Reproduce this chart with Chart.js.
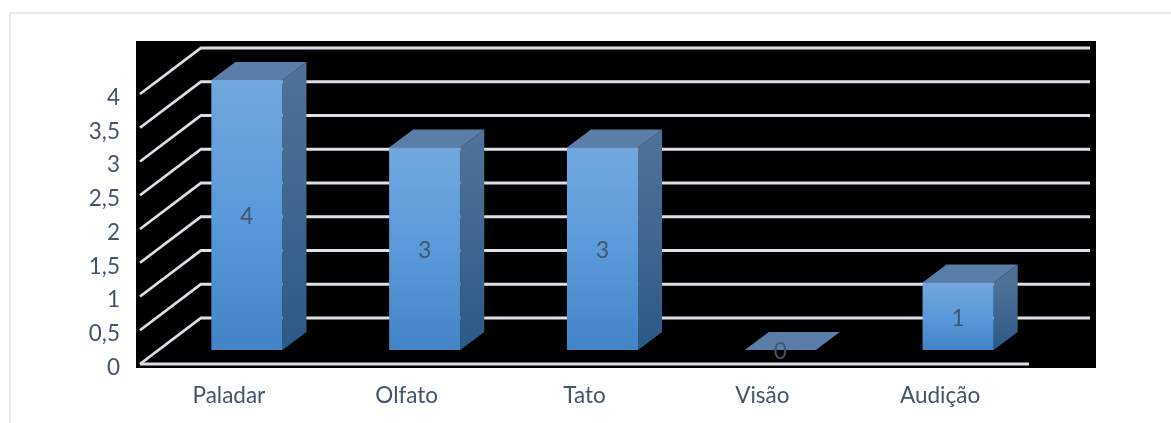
<!DOCTYPE html>
<html>
<head>
<meta charset="utf-8">
<script src="https://cdn.jsdelivr.net/npm/chart.js@4"></script>
<style>
  html, body { margin: 0; padding: 0; background: #fff; overflow: hidden; }
  #wrap { position: absolute; left: 0; top: 0; width: 1171px; height: 423px; }
  #frame { position: absolute; left: 9px; top: 12px; right: 0; bottom: 0; border-left: 2px solid #e6ebf0; border-top: 2px solid #e6ebf0; }
  canvas { position: absolute; left: 0; top: 0; }
</style>
</head>
<body>
<div id="wrap">
  <div id="frame"></div>
  <canvas id="chart" width="1171" height="423"></canvas>
</div>
<script>
// Values.
const categories = ["Paladar", "Olfato", "Tato", "Visão", "Audição"];
const values = [4, 3, 3, 0, 1];
const yMin = 0;
const yMax = 4;
const yStep = 0.5;

const textColor = "#44546a";
const gridColor = "#dcdfe5";
const fontFamily = "Lato, Carlito, sans-serif";
const fontSize = 22.5;

// Depth of the fake 3D: wall offset and bar offsets, in pixels.
const wallDx = 61, wallDy = -46;
const barDx = 18, barDy = -14;
const sideDx = 24, sideDy = -18;

function frontGradient(ctx) {
  const chart = ctx.chart;
  const y = chart.scales.y;
  const top = y ? y.getPixelForValue(ctx.raw || 0) : NaN;
  const bottom = y ? y.getPixelForValue(0) : NaN;
  // scales have no pixels yet on the first pass
  if (!Number.isFinite(top) || !Number.isFinite(bottom)) return "#5b9bd5";
  const g = chart.ctx.createLinearGradient(0, top, 0, bottom);
  g.addColorStop(0, "#72a7de");
  g.addColorStop(0.5, "#5a9ada");
  g.addColorStop(1, "#4284c6");
  return g;
}

const scene3d = {
  id: "scene3d",
  beforeDraw(chart) {
    const { ctx } = chart;
    ctx.save();
    ctx.fillStyle = "#000";
    ctx.fillRect(136, 41, 960, 327);
    ctx.restore();
  },
  beforeDatasetsDraw(chart) {
    const { ctx, chartArea: a, scales: { y } } = chart;
    ctx.save();
    ctx.strokeStyle = gridColor;
    ctx.lineWidth = 2.8;
    y.ticks.forEach(t => {
      const py = y.getPixelForValue(t.value);
      ctx.beginPath();
      ctx.moveTo(a.left, py);
      ctx.lineTo(a.left + wallDx, py + wallDy);
      ctx.lineTo(a.right + wallDx, py + wallDy);
      ctx.stroke();
    });
    // floor edge at the front
    ctx.beginPath();
    ctx.moveTo(a.left, a.bottom);
    ctx.lineTo(a.right, a.bottom);
    ctx.stroke();
    ctx.restore();
  },
  beforeDatasetDraw(chart, args) {
    const { ctx } = chart;
    ctx.save();
    ctx.translate(barDx, barDy);
    // side and top faces sit behind the front face
    chart.getDatasetMeta(args.index).data.forEach((bar, i) => {
      const p = bar.getProps(["x", "y", "base", "width"], true);
      const l = p.x - p.width / 2, r = p.x + p.width / 2;
      if (values[i] > 0) {
        const g = ctx.createLinearGradient(0, p.y, 0, p.base);
        g.addColorStop(0, "#4f7198");
        g.addColorStop(1, "#2b5a86");
        ctx.fillStyle = g;
        ctx.beginPath();
        ctx.moveTo(r, p.y);
        ctx.lineTo(r + sideDx, p.y + sideDy);
        ctx.lineTo(r + sideDx, p.base + sideDy);
        ctx.lineTo(r, p.base);
        ctx.closePath();
        ctx.fill();
      }
      ctx.fillStyle = "#5a7ea8";
      ctx.beginPath();
      ctx.moveTo(l, p.y);
      ctx.lineTo(l + sideDx, p.y + sideDy);
      ctx.lineTo(r + sideDx, p.y + sideDy);
      ctx.lineTo(r, p.y);
      ctx.closePath();
      ctx.fill();
    });
  },
  afterDatasetDraw(chart) {
    chart.ctx.restore();
  },
  afterDatasetsDraw(chart) {
    const { ctx } = chart;
    ctx.save();
    ctx.font = fontSize + "px " + fontFamily;
    ctx.fillStyle = textColor;
    ctx.textAlign = "center";
    ctx.textBaseline = "middle";
    chart.getDatasetMeta(0).data.forEach((bar, i) => {
      const p = bar.getProps(["x", "y", "base"], true);
      ctx.fillText(String(values[i]), p.x + barDx, (p.y + p.base) / 2 + barDy + 2);
    });
    ctx.restore();
  }
};

new Chart(document.getElementById("chart"), {
  type: "bar",
  data: {
    labels: categories,
    datasets: [{
      data: values,
      backgroundColor: frontGradient,
      borderWidth: 0,
      clip: false,
      categoryPercentage: 0.4,
      barPercentage: 1
    }]
  },
  options: {
    responsive: false,
    animation: false,
    events: [],
    layout: { padding: { left: 0, top: 94, right: 142, bottom: 0 } },
    plugins: { legend: { display: false }, title: { display: false }, tooltip: { enabled: false } },
    scales: {
      x: {
        grid: { display: false },
        border: { display: false },
        afterFit: s => { s.height = 59; },
        ticks: { color: textColor, padding: 10, font: { family: fontFamily, size: fontSize }, maxRotation: 0 }
      },
      y: {
        min: yMin,
        max: yMax,
        grid: { display: false },
        border: { display: false },
        afterFit: s => { s.width = 140; },
        ticks: {
          stepSize: yStep,
          color: textColor,
          padding: 12,
          labelOffset: 3.5,
          font: { family: fontFamily, size: fontSize },
          callback: v => String(v).replace(".", ",")
        }
      }
    }
  },
  plugins: [scene3d]
});
</script>
</body>
</html>
